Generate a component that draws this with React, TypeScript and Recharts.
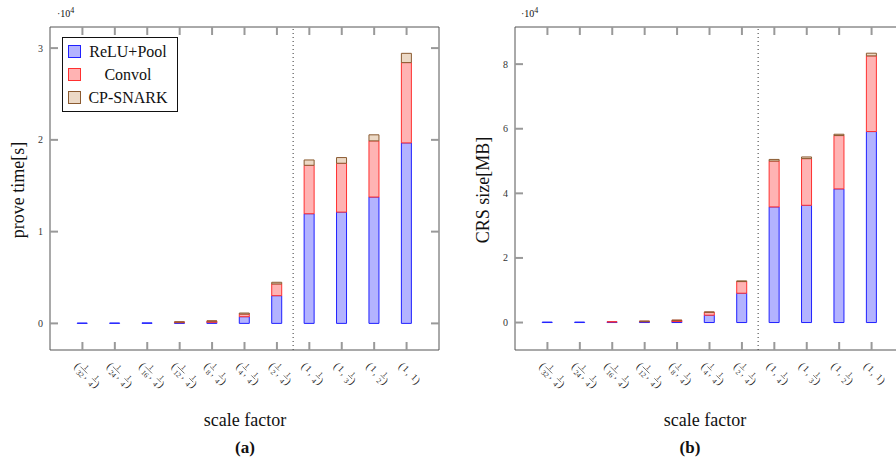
import React from 'react';
import { BarChart, Bar, XAxis, YAxis, ReferenceLine, Legend } from 'recharts';

// scale factor pairs (first, second) per category
const firstFactor = ['1/32', '1/24', '1/16', '1/12', '1/8', '1/4', '1/2', '1', '1', '1', '1'];
const secondFactor = ['1/4', '1/4', '1/4', '1/4', '1/4', '1/4', '1/4', '1/4', '1/3', '1/2', '1'];

// (a) prove time in seconds
const proveRelu = [40, 45, 60, 80, 120, 730, 3020, 11950, 12130, 13770, 19670];
const proveConv = [0, 0, 0, 70, 130, 290, 1280, 5280, 5320, 6120, 8750];
const proveCp = [0, 0, 0, 10, 15, 110, 180, 580, 620, 660, 1010];

// (b) CRS size in MB
const crsRelu = [150, 150, 200, 250, 300, 2270, 9080, 35800, 36300, 41380, 59130];
const crsConv = [0, 0, 40, 150, 400, 930, 3610, 14200, 14450, 16510, 23430];
const crsCp = [0, 0, 0, 20, 20, 60, 210, 500, 520, 410, 830];

const proveTicks = [0, 10000, 20000, 30000];
const crsTicks = [0, 20000, 40000, 60000, 80000];

const positions = firstFactor.map((_, i) => i + 1);
const splitAt = 7.5;

const series = [
  { key: 'relu', name: 'ReLU+Pool', fill: '#b3b3ff', stroke: '#2020ff' },
  { key: 'conv', name: 'Convol', fill: '#ffb3b3', stroke: '#ff3030' },
  { key: 'cp', name: 'CP-SNARK', fill: '#ecd9c6', stroke: '#8a5a30' },
];

const proveData = positions.map((p, i) => ({ pos: p, relu: proveRelu[i], conv: proveConv[i], cp: proveCp[i] }));
const crsData = positions.map((p, i) => ({ pos: p, relu: crsRelu[i], conv: crsConv[i], cp: crsCp[i] }));

const serif = '"Liberation Serif", "DejaVu Serif", serif';
const TICK_LEN = 8;
const TICK_COLOR = '#999';
const TICK_W = 2;
const AXIS_COLOR = '#555';

// chart box (both panels share it)
const CHART_W = 460;
const CHART_H = 463;
const MARGIN = { top: 26, right: 20, left: 20, bottom: 63 };
const TOP_AXIS_H = 1;
const BOTTOM_AXIS_H = 50;
const PLOT_H = CHART_H - MARGIN.top - MARGIN.bottom - TOP_AXIS_H - BOTTOM_AXIS_H;

function factorParts(f: string, x0: number, k: string) {
  if (f.includes('/')) {
    const [n, d] = f.split('/');
    const w = Math.max(n.length, d.length) * 3.4 + 2;
    return {
      w,
      el: (
        <g key={k}>
          <text x={x0 + w / 2} y={-3.2} fontSize={6} textAnchor="middle">{n}</text>
          <path d={`M${x0 + 0.4},-2H${x0 + w - 0.4}`} stroke="#222" strokeWidth={0.5} fill="none" />
          <text x={x0 + w / 2} y={4.4} fontSize={6} textAnchor="middle">{d}</text>
        </g>
      ),
    };
  }
  return { w: f.length * 4 + 1, el: <text key={k} x={x0 + 0.5} y={1} fontSize={8}>{f}</text> };
}

const BOTTOM_MARGIN = 20;

function BottomTick(props: any) {
  const { x, y, payload } = props;
  const i = positions.indexOf(payload.value);
  if (i < 0) return null;
  const a = factorParts(firstFactor[i], 3.5, 'a');
  const cx = 3.5 + a.w;
  const b = factorParts(secondFactor[i], cx + 5, 'b');
  const end = cx + 5 + b.w;
  return (
    <g transform={`translate(${x - 7},${y - 5}) rotate(45) scale(1.2)`} fill="#222" fontFamily={serif}>
      <text x={0} y={2} fontSize={9}>(</text>
      {a.el}
      <text x={cx + 0.5} y={2} fontSize={8}>,</text>
      {b.el}
      <text x={end} y={2} fontSize={9}>)</text>
    </g>
  );
}

// top axis draws the inward tick marks on both horizontal frame edges
function TopTick(props: any) {
  const { x, y } = props;
  const bottom = y + PLOT_H;
  return (
    <g>
      <path d={`M${x},${y}V${y + TICK_LEN}`} stroke={TICK_COLOR} strokeWidth={TICK_W} fill="none" />
      <path d={`M${x},${bottom}V${bottom - TICK_LEN}`} stroke={TICK_COLOR} strokeWidth={TICK_W} fill="none" />
    </g>
  );
}

function RightTick(props: any) {
  const { x, y } = props;
  return <path d={`M${x - TICK_LEN},${y}H${x}`} stroke={TICK_COLOR} strokeWidth={TICK_W} fill="none" />;
}

const LEFT_MARGIN = 7;

function LeftTick(props: any) {
  const { x, y, payload } = props;
  const axisX = x + LEFT_MARGIN;
  return (
    <g>
      <path d={`M${axisX},${y}H${axisX + TICK_LEN}`} stroke={TICK_COLOR} strokeWidth={TICK_W} fill="none" />
      <text x={x} y={y} dy={3.5} textAnchor="end" fontSize={10} fill="#333" fontFamily={serif}>
        {String(payload.value / 10000)}
      </text>
    </g>
  );
}

function LegendBox() {
  return (
    <div style={{ border: '1px solid #111', background: '#fff', width: 114, padding: '2px 0', fontFamily: serif, fontSize: 16, color: '#111' }}>
      {series.map((s) => (
        <div key={s.key} style={{ display: 'flex', alignItems: 'center', height: 23 }}>
          <span style={{ width: 11, height: 11, marginLeft: 5, background: s.fill, border: `1px solid ${s.stroke}` }} />
          <span style={{ flex: 1, textAlign: 'center', marginRight: 2 }}>{s.name}</span>
        </div>
      ))}
    </div>
  );
}

function Panel(props: { data: any[]; ticks: number[]; domain: [number, number]; left: number; legend?: boolean }) {
  const { data, ticks, domain, left, legend } = props;
  return (
    <BarChart width={CHART_W} height={CHART_H} data={data} margin={MARGIN} style={{ position: 'absolute', left, top: 0 }}>
      <XAxis
        dataKey="pos"
        type="number"
        domain={[0, 12]}
        ticks={positions}
        height={BOTTOM_AXIS_H}
        tickSize={0}
        tickMargin={BOTTOM_MARGIN}
        tickLine={false}
        tick={(p: any) => <BottomTick {...p} />}
        stroke={AXIS_COLOR}
        interval={0}
      />
      <XAxis
        xAxisId="top"
        orientation="top"
        dataKey="pos"
        type="number"
        domain={[0, 12]}
        ticks={positions}
        height={TOP_AXIS_H}
        tickSize={0}
        tickMargin={0}
        tickLine={false}
        tick={(p: any) => <TopTick {...p} />}
        stroke={AXIS_COLOR}
        interval={0}
      />
      <YAxis
        domain={domain}
        ticks={ticks}
        width={30}
        tickSize={0}
        tickMargin={LEFT_MARGIN}
        tickLine={false}
        tick={(p: any) => <LeftTick {...p} />}
        stroke={AXIS_COLOR}
        interval={0}
        allowDataOverflow
      />
      <YAxis
        yAxisId="right"
        orientation="right"
        domain={domain}
        ticks={ticks}
        width={1}
        tickSize={0}
        tickMargin={0}
        tickLine={false}
        tick={(p: any) => <RightTick {...p} />}
        stroke={AXIS_COLOR}
        interval={0}
        allowDataOverflow
      />
      <ReferenceLine x={splitAt} stroke="#333" strokeDasharray="1 3" />
      {series.map((s) => (
        <Bar
          key={s.key}
          dataKey={s.key}
          name={s.name}
          stackId="a"
          barSize={10}
          fill={s.fill}
          stroke={s.stroke}
          strokeWidth={1}
          isAnimationActive={false}
        />
      ))}
      {legend && (
        <Legend
          layout="vertical"
          align="center"
          verticalAlign="middle"
          content={() => <LegendBox />}
          wrapperStyle={{ position: 'absolute', left: 62, top: 37, width: 'auto' }}
        />
      )}
    </BarChart>
  );
}

const textBase: React.CSSProperties = { position: 'absolute', fontFamily: serif, color: '#111', whiteSpace: 'nowrap' };

export default function App() {
  return (
    <div style={{ position: 'absolute', left: 0, top: 0, width: 896, height: 463, overflow: 'hidden', background: '#fff' }}>
      <Panel data={proveData} ticks={proveTicks} domain={[-2900, 32300]} left={0} legend />
      <Panel data={crsData} ticks={crsTicks} domain={[-8500, 91500]} left={465} />

      <div style={{ ...textBase, left: 57, top: 6, fontSize: 10 }}>·10<sup style={{ fontSize: 8 }}>4</sup></div>
      <div style={{ ...textBase, left: 521, top: 6, fontSize: 10 }}>·10<sup style={{ fontSize: 8 }}>4</sup></div>

      <div style={{ ...textBase, left: 18, top: 190, fontSize: 18, transform: 'translate(-50%,-50%) rotate(-90deg)' }}>prove time[s]</div>
      <div style={{ ...textBase, left: 483, top: 190, fontSize: 18, transform: 'translate(-50%,-50%) rotate(-90deg)' }}>CRS size[MB]</div>

      <div style={{ ...textBase, left: 245, top: 420, fontSize: 18, transform: 'translate(-50%,-50%)' }}>scale factor</div>
      <div style={{ ...textBase, left: 705, top: 420, fontSize: 18, transform: 'translate(-50%,-50%)' }}>scale factor</div>

      <div style={{ ...textBase, left: 245, top: 448, fontSize: 17, fontWeight: 'bold', transform: 'translate(-50%,-50%)' }}>(a)</div>
      <div style={{ ...textBase, left: 690, top: 448, fontSize: 17, fontWeight: 'bold', transform: 'translate(-50%,-50%)' }}>(b)</div>
    </div>
  );
}
